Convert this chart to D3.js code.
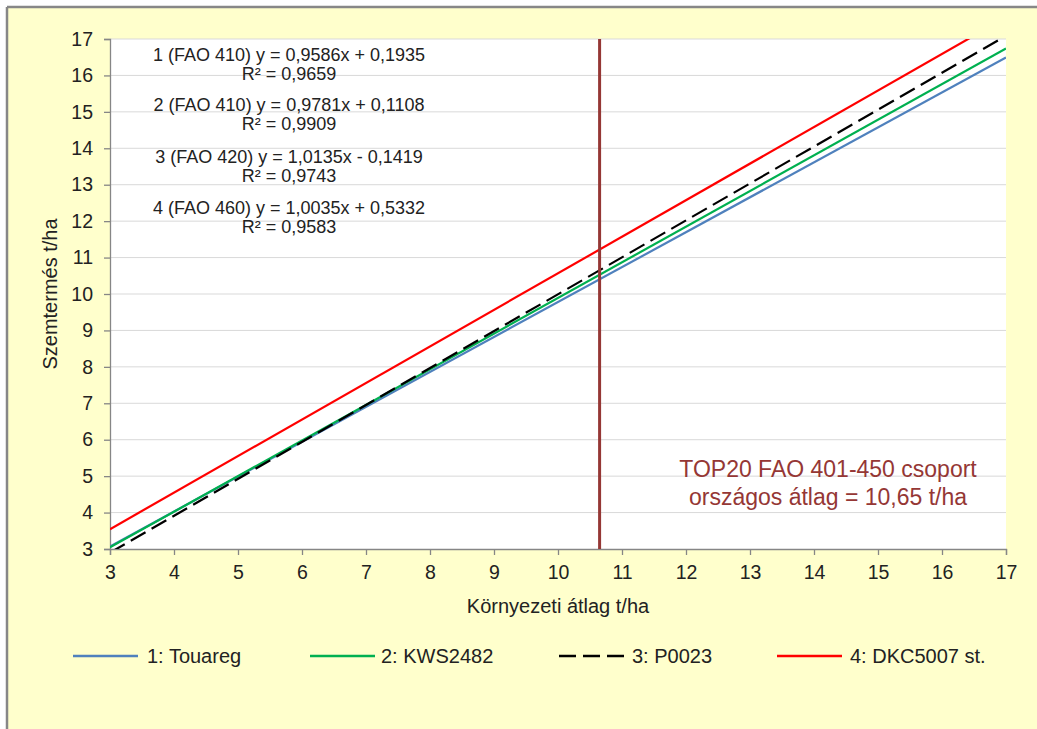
<!DOCTYPE html>
<html><head><meta charset="utf-8">
<script src="https://cdn.jsdelivr.net/npm/d3@7"></script>
<style>html,body{margin:0;padding:0;background:#fff;}svg{display:block;font-family:"Liberation Sans",Arial,sans-serif;}</style>
</head><body><svg id="c" width="1037" height="729"></svg>
<script>
// Data
const xEnds = [3, 17];
const seriesNames = ["1: Touareg", "2: KWS2482", "3: P0023", "4: DKC5007 st."];
const s1 = [3.069, 16.490];   // y = 0,9586x + 0,1935
const s2 = [3.045, 16.739];   // y = 0,9781x + 0,1108
const s3 = [2.899, 17.088];   // y = 1,0135x - 0,1419
const s4 = [3.544, 17.593];   // y = 1,0035x + 0,5332
const seriesColors = ["#4F81BD", "#00B050", "#000000", "#FF0000"];
const seriesDash = [null, null, "17,7", null];
const xTicks = [3,4,5,6,7,8,9,10,11,12,13,14,15,16,17];
const yTicks = [3,4,5,6,7,8,9,10,11,12,13,14,15,16,17];
const avgX = 10.65;
const eqLines = [
  ["1 (FAO 410) y = 0,9586x + 0,1935", "R² = 0,9659"],
  ["2 (FAO 410) y = 0,9781x + 0,1108", "R² = 0,9909"],
  ["3 (FAO 420) y = 1,0135x - 0,1419", "R² = 0,9743"],
  ["4 (FAO 460) y = 1,0035x + 0,5332", "R² = 0,9583"]
];
const avgNote = ["TOP20 FAO 401-450 csoport", "országos átlag = 10,65 t/ha"];

const svg = d3.select("#c");
// background & border
svg.append("rect").attr("x",7).attr("y",7).attr("width",1030).attr("height",722).attr("fill","#FFFFCC");
svg.append("line").attr("x1",7).attr("x2",1037).attr("y1",7).attr("y2",7).attr("stroke","#878787").attr("stroke-width",2.5);
svg.append("line").attr("x1",7).attr("x2",7).attr("y1",7).attr("y2",729).attr("stroke","#878787").attr("stroke-width",2.5);

const L=110, R=1006, T=39, B=549;
const x = d3.scaleLinear().domain([3,17]).range([L,R]);
const y = d3.scaleLinear().domain([3,17]).range([B,T]);

svg.append("rect").attr("x",L).attr("y",T).attr("width",R-L).attr("height",B-T).attr("fill","#fff");
svg.append("clipPath").attr("id","clip").append("rect").attr("x",L).attr("y",T).attr("width",R-L).attr("height",B-T);

// grid
svg.append("g").selectAll("line").data(yTicks.slice(1)).join("line")
  .attr("x1",L).attr("x2",R).attr("y1",d=>y(d)).attr("y2",d=>y(d))
  .attr("stroke","#D9D9D9").attr("stroke-width",1);

// axes
const xa = svg.append("g").attr("transform",`translate(0,${B})`)
  .call(d3.axisBottom(x).tickValues(xTicks).tickSize(6).tickPadding(10).tickFormat(d3.format("d")));
const ya = svg.append("g").attr("transform",`translate(${L},0)`)
  .call(d3.axisLeft(y).tickValues(yTicks).tickSize(6).tickPadding(11).tickFormat(d3.format("d")));
[xa,ya].forEach(a=>{
  a.select(".domain").attr("stroke","#868686").attr("stroke-width",1.3);
  a.selectAll(".tick line").attr("stroke","#868686").attr("stroke-width",1.3);
  a.selectAll("text").attr("fill","#222").attr("font-size",19.5).attr("font-family","Liberation Sans, Arial, sans-serif");
});

// series
const allSeries = [s1,s2,s3,s4];
const lineGen = d3.line().x((d,i)=>x(xEnds[i])).y(d=>y(d));
const g = svg.append("g").attr("clip-path","url(#clip)");
allSeries.forEach((s,i)=>{
  g.append("path").datum(s).attr("d",lineGen).attr("fill","none")
   .attr("stroke",seriesColors[i]).attr("stroke-width",2.2)
   .attr("stroke-dasharray",seriesDash[i]);
});

// average line
svg.append("line").attr("x1",x(avgX)).attr("x2",x(avgX)).attr("y1",T).attr("y2",B)
  .attr("stroke","#953735").attr("stroke-width",3);

// equations
const eq = svg.append("g").attr("font-size",18).attr("fill","#222").attr("text-anchor","middle");
const eqTops = [55, 105, 157, 208];
eqLines.forEach((ls,i)=>{
  eq.append("text").attr("x",289).attr("y",eqTops[i]).attr("dy","0.35em").text(ls[0]);
  eq.append("text").attr("x",289).attr("y",eqTops[i]+19).attr("dy","0.35em").text(ls[1]);
});

// avg note
const an = svg.append("g").attr("font-size",23).attr("fill","#953735").attr("text-anchor","middle");
an.append("text").attr("x",828).attr("y",469).attr("dy","0.35em").text(avgNote[0]);
an.append("text").attr("x",828).attr("y",497).attr("dy","0.35em").text(avgNote[1]);

// axis titles
svg.append("text").attr("x",558).attr("y",606).attr("dy","0.35em").attr("text-anchor","middle")
  .attr("font-size",20).attr("fill","#222").text("Környezeti átlag t/ha");
svg.append("text").attr("transform","translate(50,294) rotate(-90)").attr("dy","0.35em").attr("text-anchor","middle")
  .attr("font-size",20).attr("fill","#222").text("Szemtermés t/ha");

// legend
const legX = [[73,138,147],[310,375,381],[559,625,632],[777,842,850]];
const ly = 656;
const lg = svg.append("g");
seriesNames.forEach((n,i)=>{
  lg.append("line").attr("x1",legX[i][0]).attr("x2",legX[i][1]).attr("y1",ly).attr("y2",ly)
    .attr("stroke",seriesColors[i]).attr("stroke-width",2.4).attr("stroke-dasharray",seriesDash[i]);
  lg.append("text").attr("x",legX[i][2]).attr("y",ly).attr("dy","0.35em").attr("font-size",20)
    .attr("fill","#222").text(n);
});
</script></body></html>
